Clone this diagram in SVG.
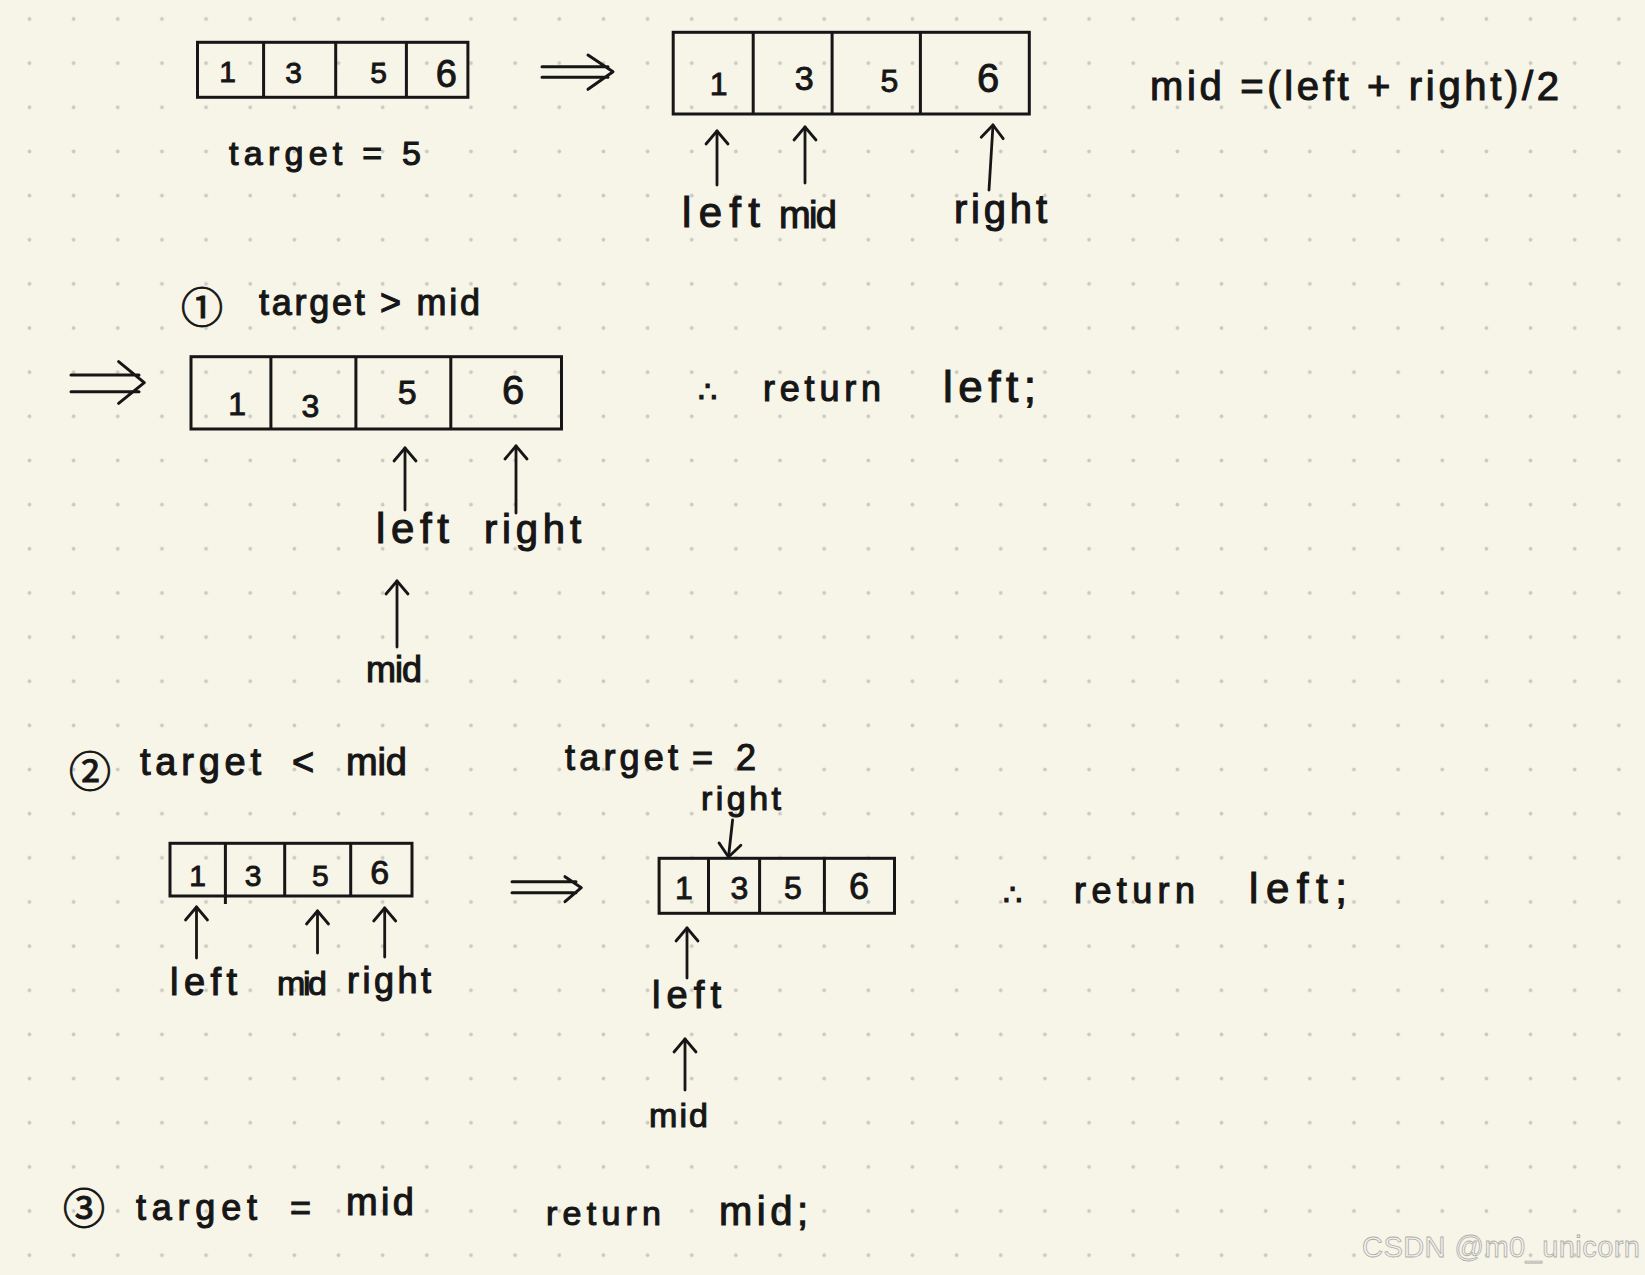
<svg xmlns="http://www.w3.org/2000/svg" width="1645" height="1275" viewBox="0 0 1645 1275">
<defs>
<pattern id="dots" patternUnits="userSpaceOnUse" x="7.4" y="-3.1" width="44.15" height="44.15">
<circle cx="22.075" cy="22.075" r="1.9" fill="#cbcac2"/>
</pattern>
<marker id="hd" viewBox="-16 -14 20 28" refX="0" refY="0" markerWidth="20" markerHeight="28" markerUnits="userSpaceOnUse" orient="auto">
<path d="M-13,-11 L0,0 L-13,11" fill="none" stroke="#161616" stroke-width="2.8" stroke-linecap="round" stroke-linejoin="round"/>
</marker>
<style>
.hw{font-family:"Liberation Sans","DejaVu Sans",sans-serif;fill:#161616;stroke:#161616;stroke-width:1.1;}
.dg{font-family:"Liberation Sans",sans-serif;fill:#161616;stroke:#161616;stroke-width:0.9;text-anchor:middle;}
.cj{font-family:"Noto Sans CJK SC","DejaVu Sans",sans-serif;fill:#161616;stroke:#161616;stroke-width:1;text-anchor:middle;dominant-baseline:central;}
.box{fill:none;stroke:#161616;stroke-width:3;}
.ptr{fill:none;stroke:#161616;stroke-width:2.8;stroke-linecap:round;marker-end:url(#hd);}
.dbl{fill:none;stroke:#161616;stroke-width:3;stroke-linecap:round;stroke-linejoin:round;}
.wm{font-family:"Liberation Sans",sans-serif;fill:#f3f2ee;stroke:#aeaea8;stroke-width:0.8;}
</style>
</defs>
<rect width="1645" height="1275" fill="#f7f4e8"/>
<rect width="1645" height="1275" fill="url(#dots)"/>

<g id="array-initial">
<rect class="box" x="197.5" y="42.3" width="270.4" height="55"/>
<path class="box" d="M263.6,42.3V97.3M335.7,42.3V97.3M406.4,42.3V97.3"/>
<text class="dg" font-size="30" x="227.5" y="82">1</text>
<text class="dg" font-size="30" x="293.6" y="83">3</text>
<text class="dg" font-size="30" x="378.6" y="83">5</text>
<text class="dg" font-size="38" x="446.4" y="87">6</text>
</g>
<g id="label-target5"><text class="hw" font-size="34" x="229" y="165" textLength="192">target = 5</text></g>

<g id="array-step0">
<rect class="box" x="673.2" y="32.3" width="356.1" height="81.7"/>
<path class="box" d="M753.2,32.3V114M832.1,32.3V114M920.4,32.3V114"/>
<text class="dg" font-size="32" x="718.6" y="95">1</text>
<text class="dg" font-size="34" x="804.3" y="90">3</text>
<text class="dg" font-size="32" x="889.3" y="92">5</text>
<text class="dg" font-size="40" x="988.2" y="92">6</text>
</g>
<g id="labels-step0">
<text class="hw" font-size="42" x="682" y="227" textLength="78">left</text>
<text class="hw" font-size="38" x="779" y="228" textLength="58">mid</text>
<text class="hw" font-size="40" x="954" y="223" textLength="93">right</text>
</g>
<g id="formula"><text class="hw" font-size="40" x="1150" y="100" textLength="409">mid =(left + right)/2</text></g>

<g id="case1-title">
<text class="cj" font-size="42" x="202" y="304">①</text>
<text class="hw" font-size="36" x="259" y="315" textLength="221">target &gt; mid</text>
</g>
<g id="array-case1">
<rect class="box" x="191" y="356.7" width="370.5" height="72.3"/>
<path class="box" d="M270.9,356.7V429M355.9,356.7V429M450.8,356.7V429"/>
<text class="dg" font-size="32" x="237.2" y="415">1</text>
<text class="dg" font-size="32" x="310.4" y="417">3</text>
<text class="dg" font-size="34" x="407.3" y="404">5</text>
<text class="dg" font-size="40" x="513.2" y="404">6</text>
</g>
<g id="labels-case1">
<text class="hw" font-size="42" x="376" y="543" textLength="73">left</text>
<text class="hw" font-size="40" x="484" y="543" textLength="97">right</text>
<text class="hw" font-size="36" x="366" y="682" textLength="56">mid</text>
</g>
<g id="result-case1">
<text class="hw" font-size="36"><tspan x="698" y="402" font-size="30">∴</tspan><tspan x="763" y="401" textLength="118">return</tspan><tspan x="943" y="402" font-size="44" textLength="93">left;</tspan></text>
</g>

<g id="case2-title">
<text class="cj" font-size="42" x="90" y="768">②</text>
<text class="hw" font-size="38"><tspan x="140" y="775" textLength="121">target</tspan><tspan x="292" y="775">&lt;</tspan><tspan x="346" y="775" textLength="61">mid</tspan></text>
</g>
<g id="array-case2">
<rect class="box" x="170" y="843.3" width="242" height="52.7"/>
<path class="box" d="M225.4,843.3V904M284.7,843.3V896M350.7,843.3V896"/>
<text class="dg" font-size="30" x="197.7" y="886">1</text>
<text class="dg" font-size="30" x="253.1" y="886">3</text>
<text class="dg" font-size="30" x="320.3" y="886">5</text>
<text class="dg" font-size="34" x="379.6" y="884">6</text>
</g>
<g id="labels-case2">
<text class="hw" font-size="38" x="170" y="995" textLength="67">left</text>
<text class="hw" font-size="34" x="277" y="995" textLength="50">mid</text>
<text class="hw" font-size="36" x="347" y="993" textLength="84">right</text>
</g>
<g id="label-target2">
<text class="hw" font-size="36"><tspan x="565" y="770" textLength="113">target</tspan><tspan x="692" y="770">=</tspan><tspan x="736" y="770">2</tspan></text>
</g>
<g id="array-case2-result">
<rect class="box" x="659.1" y="858.3" width="235.4" height="55"/>
<path class="box" d="M708.5,858.3V913.3M759.6,858.3V913.3M824.4,858.3V913.3"/>
<text class="dg" font-size="32" x="683.8" y="899">1</text>
<text class="dg" font-size="32" x="739.5" y="899">3</text>
<text class="dg" font-size="32" x="792.9" y="899">5</text>
<text class="dg" font-size="36" x="858.9" y="899">6</text>
</g>
<g id="labels-case2-result">
<text class="hw" font-size="34" x="701" y="810" textLength="80">right</text>
<text class="hw" font-size="38" x="652" y="1008" textLength="69">left</text>
<text class="hw" font-size="34" x="649" y="1127" textLength="59">mid</text>
</g>
<g id="result-case2">
<text class="hw" font-size="36"><tspan x="1003" y="905" font-size="30">∴</tspan><tspan x="1074" y="903" textLength="121">return</tspan><tspan x="1249" y="903" font-size="42" textLength="98">left;</tspan></text>
</g>

<g id="case3">
<text class="cj" font-size="42" x="84" y="1205">③</text>
<text class="hw" font-size="36"><tspan x="136" y="1220" textLength="121">target</tspan><tspan x="290" y="1220">=</tspan><tspan x="346" y="1215" font-size="38" textLength="68">mid</tspan></text>
<text class="hw" font-size="34"><tspan x="546" y="1225" textLength="115">return</tspan><tspan x="719" y="1225" font-size="40" textLength="89">mid;</tspan></text>
</g>

<g id="connectors">
<path class="dbl" d="M542,66.7H608M542,77.3H608M588,55L613,71.7L588,89.3"/>
<path class="dbl" d="M71,375H139M71,391.7H139M118.6,361.7L144.3,382.7L118.6,403.3"/>
<path class="dbl" d="M512,881.7H576M512,892.7H576M565,876.7L581.3,887.7L565,901.7"/>
<path class="ptr" d="M717,185L717,131"/>
<path class="ptr" d="M805,183L805,127"/>
<path class="ptr" d="M989,190L993,125"/>
<path class="ptr" d="M405,510L405,448"/>
<path class="ptr" d="M516,513L516,446"/>
<path class="ptr" d="M397,647L397,581"/>
<path class="ptr" d="M196.5,958L196.5,907"/>
<path class="ptr" d="M317.5,953L317.5,911"/>
<path class="ptr" d="M384.7,957L384.7,908"/>
<path class="ptr" d="M732.6,820L728.5,857"/>
<path class="ptr" d="M687,978L687,928"/>
<path class="ptr" d="M685,1090L685,1039"/>
</g>

<text class="wm" font-size="29" x="1362" y="1257" textLength="278">CSDN @m0_unicorn</text>
</svg>
